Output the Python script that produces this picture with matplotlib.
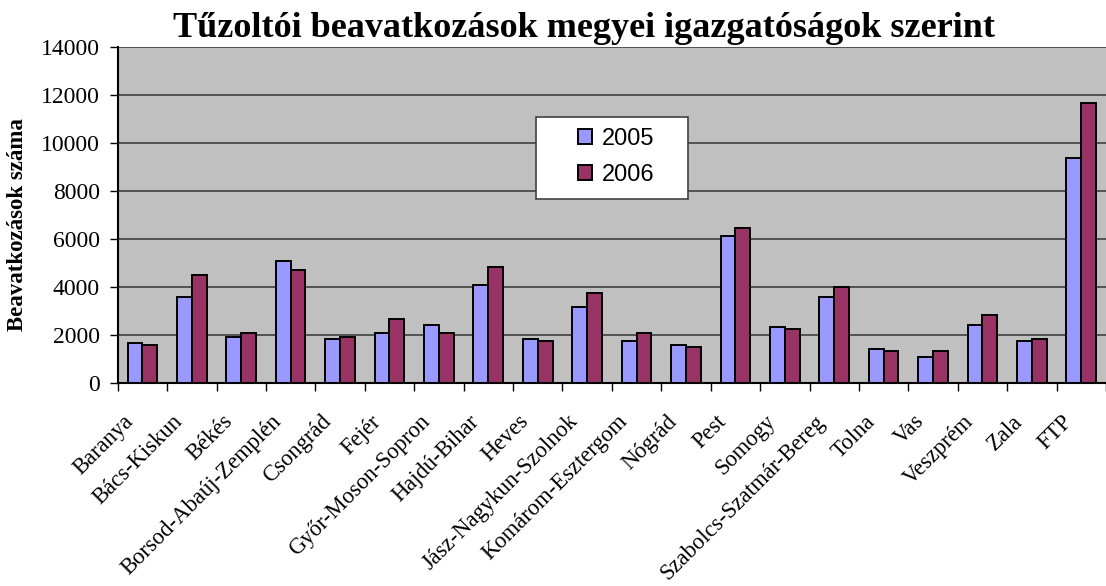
import matplotlib
matplotlib.use("Agg")
import matplotlib.pyplot as plt
import matplotlib.transforms as mtransforms
from matplotlib.patches import Rectangle, Patch
import numpy as np

categories = ["Baranya", "Bács-Kiskun", "Békés", "Borsod-Abaúj-Zemplén", "Csongrád",
              "Fejér", "Győr-Moson-Sopron", "Hajdú-Bihar", "Heves", "Jász-Nagykun-Szolnok",
              "Komárom-Esztergom", "Nógrád", "Pest", "Somogy", "Szabolcs-Szatmár-Bereg",
              "Tolna", "Vas", "Veszprém", "Zala", "FTP"]
values_2005 = [1660, 3600, 1920, 5100, 1830, 2080, 2420, 4100, 1830, 3180,
               1750, 1580, 6110, 2340, 3600, 1410, 1080, 2420, 1750, 9380]
values_2006 = [1580, 4520, 2080, 4690, 1920, 2670, 2080, 4850, 1750, 3760,
               2080, 1500, 6450, 2250, 4010, 1330, 1330, 2840, 1830, 11650]
series_labels = ["2005", "2006"]
yticks = [0, 2000, 4000, 6000, 8000, 10000, 12000, 14000]

title = "Tűzoltói beavatkozások megyei igazgatóságok szerint"
ylabel = "Beavatkozások száma"

W, H = 1106, 586
fig = plt.figure(figsize=(W / 100, H / 100), dpi=100)
fig.patch.set_facecolor("white")

left, right, top, bottom = 117.7, 1106, 47, 383
ax = fig.add_axes([left / W, 1 - bottom / H, (right - left) / W, (bottom - top) / H])
ax.set_facecolor("#C0C0C0")

x = np.arange(len(categories))
bw = 0.3
c05, c06 = "#9999FF", "#993366"
ax.bar(x - bw / 2, values_2005, width=bw, color=c05, edgecolor="black", linewidth=1.4, zorder=3)
ax.bar(x + bw / 2, values_2006, width=bw, color=c06, edgecolor="black", linewidth=1.4, zorder=3)

ax.set_xlim(-0.5, len(categories) - 0.5)
ax.set_ylim(0, 14000)
ax.set_yticks(yticks)
ax.set_yticklabels([str(v) for v in yticks], fontfamily="Liberation Serif", fontsize=17)
ax.yaxis.grid(True, color="#404040", linewidth=1.2, zorder=1)
ax.set_axisbelow(True)

ax.set_xticks(np.arange(len(categories) + 1) - 0.5, minor=True)
ax.set_xticks(x)
ax.tick_params(axis="x", which="major", length=0, pad=6)
ax.tick_params(axis="x", which="minor", length=6, width=1, color="black", direction="out")
ax.tick_params(axis="y", length=6, width=1, color="black", direction="out", pad=7)

ax.set_xticklabels(categories, rotation=45, ha="right", va="center", rotation_mode="anchor",
                   fontfamily="Liberation Serif", fontsize=16.3)
offset = mtransforms.ScaledTranslation(-12 / 100, -27 / 100, fig.dpi_scale_trans)
for lab in ax.get_xticklabels():
    lab.set_transform(lab.get_transform() + offset)

for s in ["top", "right"]:
    ax.spines[s].set_visible(False)
ax.spines["left"].set_color("black")
ax.spines["left"].set_linewidth(1.5)
ax.spines["bottom"].set_color("black")
ax.spines["bottom"].set_linewidth(1.5)
ax.spines["left"].set_zorder(4)
ax.spines["bottom"].set_zorder(4)

fig.text(18 / W, 1 - 225 / H, ylabel, rotation=90, ha="center", va="center",
         fontfamily="Liberation Serif", fontweight="bold", fontsize=16.5)

fig.text(584 / W, 1 - 36.7 / H, title, ha="center", va="baseline",
         fontfamily="Liberation Serif", fontweight="bold", fontsize=26)

# legend box
fig.patches.append(Rectangle((536 / W, 1 - 199.3 / H), (688 - 536) / W, (199.3 - 117.3) / H,
                             transform=fig.transFigure, facecolor="white", edgecolor="#404040",
                             linewidth=1.2, zorder=5))
handles = [Patch(facecolor=c05, edgecolor="black", linewidth=1.4),
           Patch(facecolor=c06, edgecolor="black", linewidth=1.4)]
leg = fig.legend(handles, series_labels, loc="center", bbox_to_anchor=(616 / W, 1 - 156.7 / H),
                 frameon=False, borderpad=0, handlelength=0.62, handleheight=0.62,
                 handletextpad=0.4, labelspacing=0.6, prop={"family": "Liberation Sans", "size": 17})
leg.set_zorder(6)

fig.savefig("out.png", dpi=100)
